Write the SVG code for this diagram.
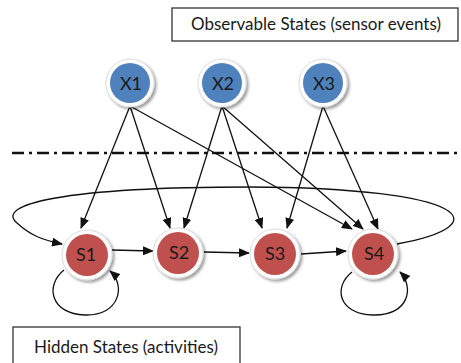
<svg xmlns="http://www.w3.org/2000/svg" width="461" height="363" viewBox="0 0 461 363">
<style>
.lbl{font-family:Lato,"Open Sans","Liberation Sans",sans-serif;font-size:17px;fill:#1a1a1a;text-anchor:middle}
.box{fill:#fff;stroke:#333;stroke-width:1.3}
.ring{fill:#fff;stroke:#ddd;stroke-width:1;filter:url(#sh)}
.blue{fill:#4f81bd}
.red{fill:#c0504d}
.nt{font-family:Lato,"Open Sans","Liberation Sans",sans-serif;font-size:18px;fill:#1a1a1a;text-anchor:middle}
.c{fill:none;stroke:#111;stroke-width:1.3;marker-end:url(#ah)}
</style>
<defs>
<marker id="ah" markerWidth="11" markerHeight="9" refX="10" refY="4.5" orient="auto" markerUnits="userSpaceOnUse">
<path d="M0,0 L11,4.5 L0,9 Z" fill="#111"/>
</marker>
<filter id="sh" x="-30%" y="-30%" width="170%" height="170%">
<feGaussianBlur in="SourceAlpha" stdDeviation="1.5"/>
<feOffset dx="2" dy="2" result="b"/>
<feComponentTransfer><feFuncA type="linear" slope="0.4"/></feComponentTransfer>
<feMerge><feMergeNode/><feMergeNode in="SourceGraphic"/></feMerge>
</filter>
</defs>
<rect width="461" height="363" fill="#fff"/>
<g id="obs-label"><rect class="box" x="172" y="8" width="286" height="33"/><text class="lbl" x="316" y="30">Observable States (sensor events)</text></g>
<g id="hid-label"><rect class="box" x="13" y="327" width="227" height="40"/><text class="lbl" x="126" y="353">Hidden States (activities)</text></g>
<line x1="12" y1="153" x2="457" y2="153" stroke="#111" stroke-width="2.5" stroke-dasharray="12,5,3,5"/>
<g id="connectors">
<path class="c" d="M130,106 L81,228"/>
<path class="c" d="M130,106 L170,228"/>
<path class="c" d="M130,106 L352,229"/>
<path class="c" d="M222,106 L184,228"/>
<path class="c" d="M222,106 L262,228"/>
<path class="c" d="M222,106 L363,229"/>
<path class="c" d="M323,106 L287,228"/>
<path class="c" d="M323,106 L378,229"/>
<path class="c" d="M112,250 L153,251"/>
<path class="c" d="M204,252 L249,253"/>
<path class="c" d="M301,254 L346,251"/>
<path class="c" d="M397,244 C500,225 470,188 250,187 C60,187 -5,205 17,223 C30,235 42,240 62,244"/>
<path class="c" d="M64,270 C45,285 50,314 85,315 C120,316 126,285 110,271"/>
<path class="c" d="M352,272 C333,287 338,314 373,315 C410,316 414,286 400,272"/>
</g>
<g id="X1"><circle class="ring" cx="130" cy="83" r="24"/><circle class="blue" cx="130" cy="83" r="20"/><text class="nt" x="131" y="90">X1</text></g>
<g id="X2"><circle class="ring" cx="222" cy="83" r="24"/><circle class="blue" cx="222" cy="83" r="20"/><text class="nt" x="223" y="90">X2</text></g>
<g id="X3"><circle class="ring" cx="323" cy="83" r="24"/><circle class="blue" cx="323" cy="83" r="20"/><text class="nt" x="324" y="90">X3</text></g>
<g id="S1"><circle class="ring" cx="87" cy="255" r="25"/><circle class="red" cx="87" cy="255" r="21"/><text class="nt" x="86" y="261">S1</text></g>
<g id="S2"><circle class="ring" cx="178" cy="253" r="25"/><circle class="red" cx="178" cy="253" r="21"/><text class="nt" x="179" y="259">S2</text></g>
<g id="S3"><circle class="ring" cx="275" cy="254" r="25"/><circle class="red" cx="275" cy="254" r="21"/><text class="nt" x="275" y="260">S3</text></g>
<g id="S4"><circle class="ring" cx="373" cy="254" r="25"/><circle class="red" cx="373" cy="254" r="21"/><text class="nt" x="374" y="260">S4</text></g>
</svg>
